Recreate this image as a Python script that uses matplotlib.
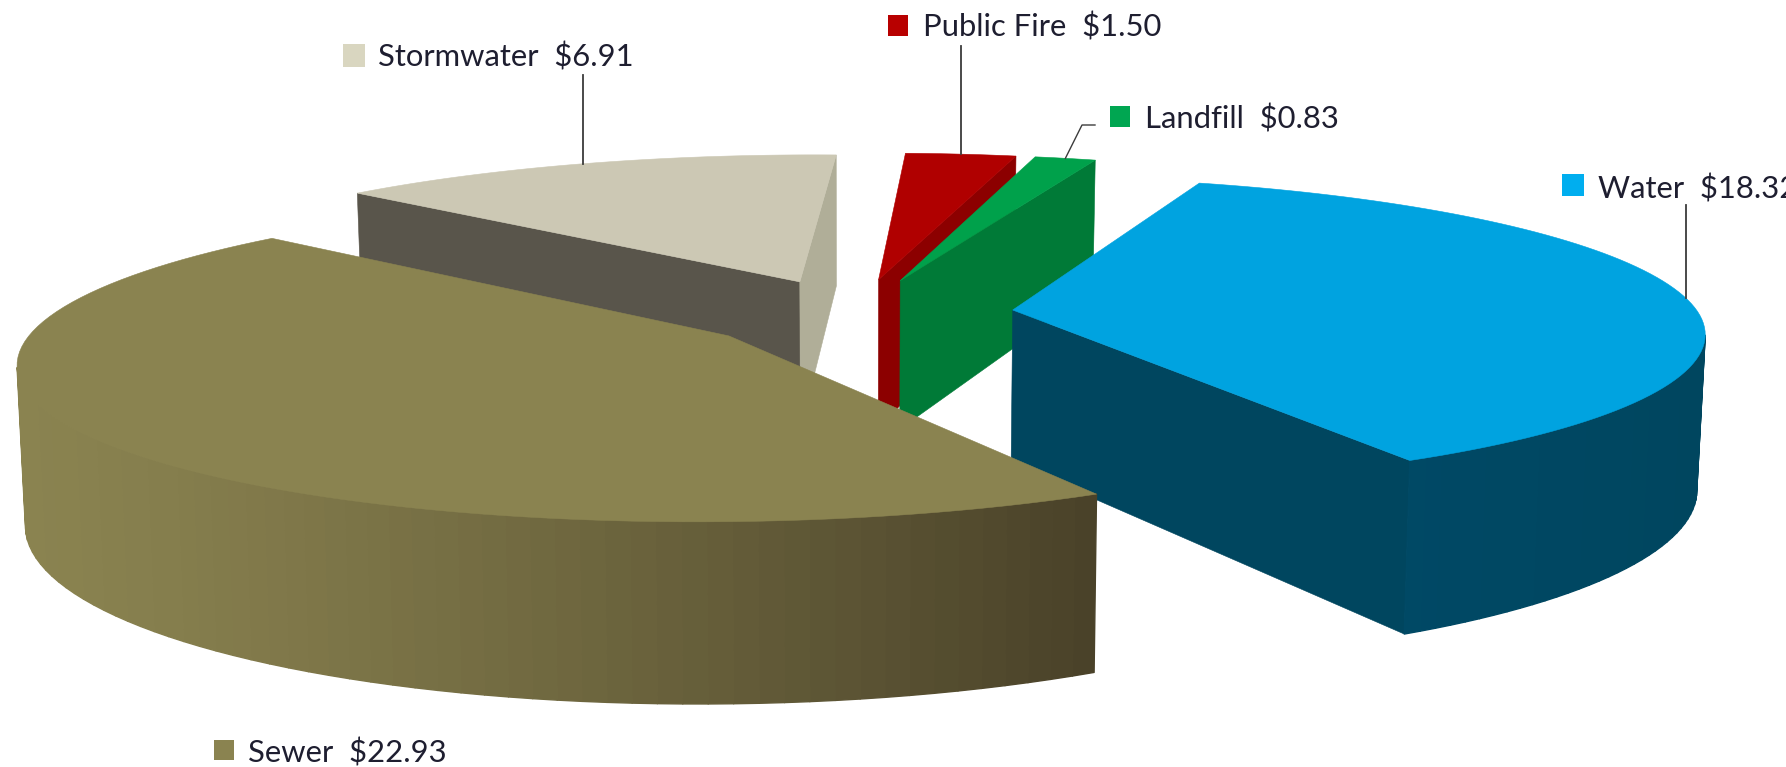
import numpy as np
import matplotlib
matplotlib.use('Agg')
import matplotlib.pyplot as plt
from matplotlib.collections import PolyCollection
from matplotlib.colors import to_rgb

# Data
categories = ['Water', 'Sewer', 'Stormwater', 'Public Fire', 'Landfill']
values = [18.32, 22.93, 6.91, 1.50, 0.83]

# Colours
top_colors = ['#00A3E0', '#8A8350', '#CCC8B4', '#B00000', '#00A14B']
key_colors = ['#00AEEF', '#8A8350', '#D9D6C0', '#B80000', '#00A651']
# wall colour for the slice edge at its first and last angle (going clockwise)
first_wall = ['#003F5C', '#4A4229', '#59554B', '#8C0000', '#007A37']
last_wall = ['#00465F', '#4A4229', '#B0AE98', '#8C0000', '#007A37']
# outer wall gradient, from left to right on screen
rim_left = ['#004A68', '#8A8350', '#8A8350', '#8C0000', '#007A37']
rim_right = ['#00465F', '#4A4229', '#8A8350', '#8C0000', '#007A37']

# Camera for the pie, pixel coordinates
CX, CY = 856, 313.5
SCALE_X, SCALE_Y = 686, 153
SHEAR = 9
PERSP = 0.14
DEPTH = 153
TAPER = 0.01
EXPLODE = 0.23
START_ANGLE = 71.0
# the original 3D view bends the angles a little
WARP = 1.1


def project(x, y, z=0.0):
    # z = 0 is the top of the pie, z = 1 the bottom
    w = 1 + PERSP * y
    sx = CX + (SCALE_X * x + SHEAR * y) / w * (1 - TAPER * z)
    sy = CY + (-SCALE_Y * y + DEPTH * z) / w
    return np.column_stack([sx, sy]) if np.ndim(sx) else np.array([sx, sy])


def warped(deg):
    return np.radians(deg + WARP * np.sin(np.radians(deg - 75)))


def facing(quad):
    # signed area in screen coordinates, tells if the wall faces the camera
    x, y = quad[:, 0], quad[:, 1]
    return -0.5 * np.sum(x * np.roll(y, -1) - np.roll(x, -1) * y)


def blend(c1, c2, t):
    return (1 - t) * np.array(to_rgb(c1)) + t * np.array(to_rgb(c2))


fig = plt.figure(figsize=(17.86, 7.67), dpi=100)
ax = fig.add_axes([0, 0, 1, 1])
ax.set_xlim(0, 1786)
ax.set_ylim(767, 0)
ax.axis('off')

sweeps = 360 * np.array(values) / sum(values)
starts = START_ANGLE - np.concatenate([[0], np.cumsum(sweeps)[:-1]])
ends = starts - sweeps
mids = (starts + ends) / 2

# back slices first
draw_order = [2, 3, 4, 0, 1]
for i in draw_order:
    mid = np.radians(mids[i])
    ax_off, ay_off = EXPLODE * np.cos(mid), EXPLODE * np.sin(mid)
    theta = warped(np.linspace(starts[i], ends[i], 90))
    xs = ax_off + np.cos(theta)
    ys = ay_off + np.sin(theta)

    top = project(xs, ys)
    bottom = project(xs, ys, np.ones_like(xs))
    apex_top = project(ax_off, ay_off)
    apex_bot = project(ax_off, ay_off, 1.0)

    # the two flat cut faces
    for edge, color in [(0, first_wall[i]), (-1, last_wall[i])]:
        quad = np.array([apex_top, top[edge], bottom[edge], apex_bot])
        sign = facing(quad) if edge == 0 else -facing(quad)
        if sign > 0:
            ax.add_patch(plt.Polygon(quad, closed=True, facecolor=color,
                                     edgecolor=color, linewidth=0.4))

    # outer curved wall, in thin strips so it can carry the gradient
    polys, colors = [], []
    xmin, xmax = top[:, 0].min(), top[:, 0].max()
    for j in range(len(xs) - 1):
        quad = np.array([top[j], top[j + 1], bottom[j + 1], bottom[j]])
        if facing(quad) > 0:
            polys.append(quad)
            t = (top[j, 0] - xmin) / (xmax - xmin)
            colors.append(blend(rim_left[i], rim_right[i], t ** 1.3))
    if polys:
        ax.add_collection(PolyCollection(polys, facecolors=colors,
                                         edgecolors=colors, linewidths=1.0))

    # top face
    outline = np.vstack([apex_top, top])
    ax.add_patch(plt.Polygon(outline, closed=True, facecolor=top_colors[i],
                             edgecolor=top_colors[i], linewidth=0.4))

# Labels
key_x = [1562, 214, 343, 888, 1110]
key_y = [174, 740, 44, 15, 106]
key_w = [22, 20, 22, 20, 20]
key_h = [22, 20, 23, 21, 21]
label_x = [1598, 248, 378, 923, 1145]
label_base = [198, 763, 66, 36, 129]
leader_y = [205, None, 75, 46, None]
LEADER_COLOR = '#3C3C3C'

for i, name in enumerate(categories):
    ax.add_patch(plt.Rectangle((key_x[i], key_y[i]), key_w[i], key_h[i],
                               facecolor=key_colors[i], edgecolor='none'))
    ax.text(label_x[i], label_base[i], f'{name}  ${values[i]:.2f}', family='Lato',
            fontsize=22.3, color='#1E1E30', va='baseline', ha='left',
            parse_math=False)

    th = warped(mids[i])
    mid = np.radians(mids[i])
    end = project(EXPLODE * np.cos(mid) + np.cos(th), EXPLODE * np.sin(mid) + np.sin(th))
    if leader_y[i] is not None:
        ax.plot([end[0], end[0]], [leader_y[i], end[1]], color=LEADER_COLOR, lw=1.3)
    elif name == 'Landfill':
        ax.plot([key_x[i] - 15, key_x[i] - 28, end[0]], [125, 125, end[1]],
                color=LEADER_COLOR, lw=1.0)

fig.savefig('out.png', dpi=100, facecolor='white')
